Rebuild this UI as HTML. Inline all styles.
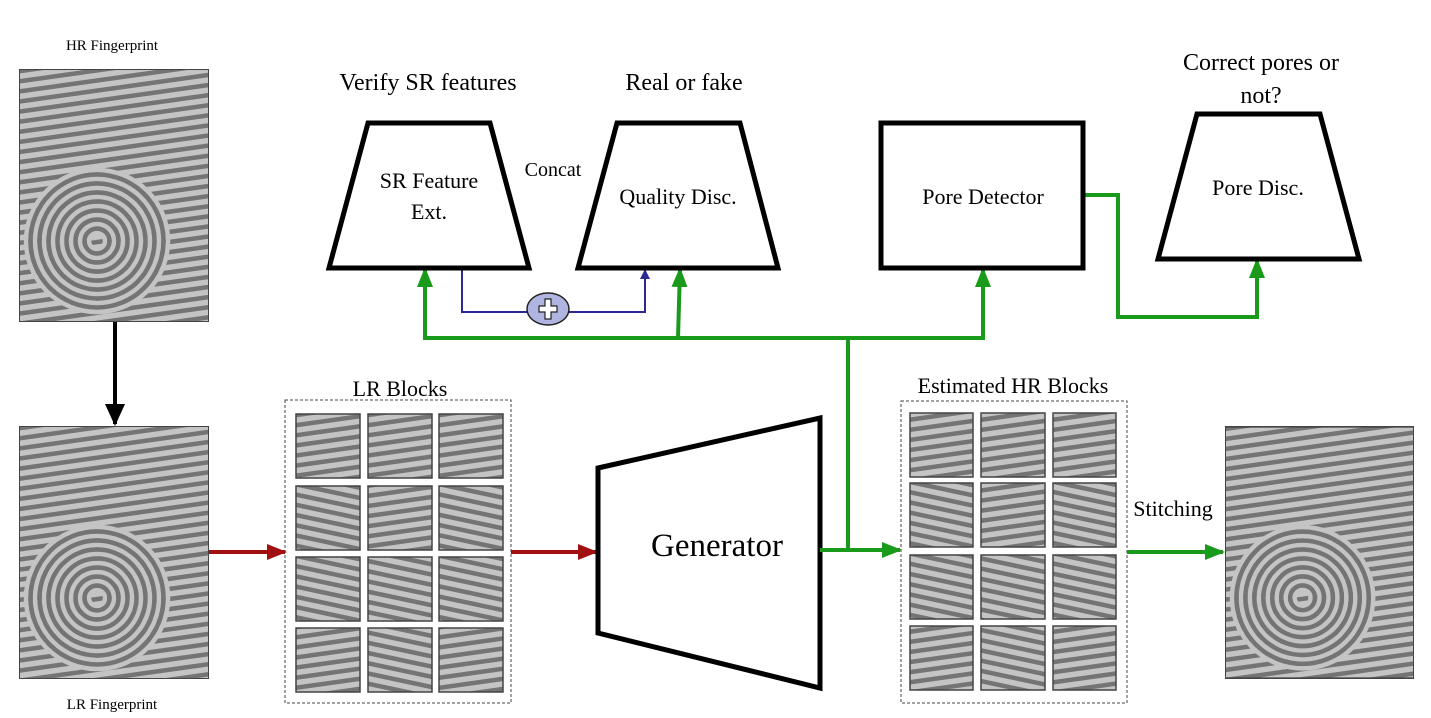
<!DOCTYPE html>
<html><head><meta charset="utf-8"><style>
html,body{margin:0;padding:0;background:#fff;}
svg{display:block;}
text{font-family:"Liberation Serif",serif;fill:#000;}
</style></head><body>
<svg width="1431" height="718" viewBox="0 0 1431 718" xmlns="http://www.w3.org/2000/svg">
<defs>
<pattern id="stripes" width="14" height="10" patternUnits="userSpaceOnUse" patternTransform="rotate(-8)">
<rect width="14" height="10" fill="#c4c4c4"/>
<rect y="0" width="14" height="4.5" fill="#747474"/>
</pattern>
<pattern id="stripes2" width="14" height="10" patternUnits="userSpaceOnUse" patternTransform="rotate(12)">
<rect width="14" height="10" fill="#c4c4c4"/>
<rect y="0" width="14" height="4.5" fill="#747474"/>
</pattern>
<marker id="ab" markerWidth="22" markerHeight="20" refX="20" refY="10" orient="auto" markerUnits="userSpaceOnUse"><path d="M0,0 L22,10 L0,20 z" fill="#000"/></marker>
<marker id="ar" markerWidth="20" markerHeight="16" refX="18" refY="8" orient="auto" markerUnits="userSpaceOnUse"><path d="M0,0 L20,8 L0,16 z" fill="#a01010"/></marker>
<marker id="ag" markerWidth="20" markerHeight="16" refX="18" refY="8" orient="auto" markerUnits="userSpaceOnUse"><path d="M0,0 L20,8 L0,16 z" fill="#1a9a1a"/></marker>
<marker id="abl" markerWidth="10" markerHeight="10" refX="9" refY="5" orient="auto" markerUnits="userSpaceOnUse"><path d="M0,0 L10,5 L0,10 z" fill="#2a2a90"/></marker>
<symbol id="fp" viewBox="0 0 190 253">
<rect width="190" height="253" fill="url(#stripes)"/>
<g fill="none" stroke="#c4c4c4" stroke-width="4.5">
<circle cx="78" cy="172" r="8"/><circle cx="78" cy="172" r="17"/><circle cx="78" cy="172" r="26"/><circle cx="78" cy="172" r="35"/><circle cx="78" cy="172" r="44"/><circle cx="78" cy="172" r="53"/><circle cx="78" cy="172" r="62"/><circle cx="78" cy="172" r="71"/>
</g>
<g fill="none" stroke="#747474" stroke-width="4.5">
<circle cx="78" cy="172" r="12.5"/><circle cx="78" cy="172" r="21.5"/><circle cx="78" cy="172" r="30.5"/><circle cx="78" cy="172" r="39.5"/><circle cx="78" cy="172" r="48.5"/><circle cx="78" cy="172" r="57.5"/><circle cx="78" cy="172" r="66.5"/>
</g>
<rect width="190" height="253" fill="none" stroke="#444" stroke-width="2"/>
</symbol>
</defs>

<use href="#fp" x="19" y="69" width="190" height="253"/>
<use href="#fp" x="19" y="426" width="190" height="253"/>
<use href="#fp" x="1225" y="426" width="189" height="253"/>
<text x="112" y="50" font-size="15" text-anchor="middle">HR Fingerprint</text>
<text x="112" y="709" font-size="15" text-anchor="middle">LR Fingerprint</text>
<line x1="115" y1="322" x2="115" y2="424" stroke="#000" stroke-width="4" marker-end="url(#ab)"/>

<rect x="285" y="400" width="226" height="303" fill="none" stroke="#444" stroke-width="1" stroke-dasharray="3,2"/>
<text x="400" y="396" font-size="22" text-anchor="middle">LR Blocks</text>
<g stroke="#444" stroke-width="1.5">
<rect x="296" y="414" width="64" height="64" fill="url(#stripes)"/><rect x="368" y="414" width="64" height="64" fill="url(#stripes)"/><rect x="439" y="414" width="64" height="64" fill="url(#stripes)"/>
<rect x="296" y="486" width="64" height="64" fill="url(#stripes2)"/><rect x="368" y="486" width="64" height="64" fill="url(#stripes)"/><rect x="439" y="486" width="64" height="64" fill="url(#stripes2)"/>
<rect x="296" y="557" width="64" height="64" fill="url(#stripes2)"/><rect x="368" y="557" width="64" height="64" fill="url(#stripes2)"/><rect x="439" y="557" width="64" height="64" fill="url(#stripes2)"/>
<rect x="296" y="628" width="64" height="64" fill="url(#stripes)"/><rect x="368" y="628" width="64" height="64" fill="url(#stripes2)"/><rect x="439" y="628" width="64" height="64" fill="url(#stripes)"/>
</g>
<line x1="209" y1="552" x2="285" y2="552" stroke="#a01010" stroke-width="4" marker-end="url(#ar)"/>
<line x1="511" y1="552" x2="596" y2="552" stroke="#a01010" stroke-width="4" marker-end="url(#ar)"/>

<polygon points="598,468 820,418 820,688 598,633" fill="#fff" stroke="#000" stroke-width="5"/>
<text x="717" y="556" font-size="33" text-anchor="middle">Generator</text>

<rect x="901" y="401" width="226" height="302" fill="none" stroke="#444" stroke-width="1" stroke-dasharray="3,2"/>
<text x="1013" y="393" font-size="22" text-anchor="middle">Estimated HR Blocks</text>
<g stroke="#444" stroke-width="1.5">
<rect x="910" y="413" width="63" height="64" fill="url(#stripes)"/><rect x="981" y="413" width="64" height="64" fill="url(#stripes)"/><rect x="1053" y="413" width="63" height="64" fill="url(#stripes)"/>
<rect x="910" y="483" width="63" height="64" fill="url(#stripes2)"/><rect x="981" y="483" width="64" height="64" fill="url(#stripes)"/><rect x="1053" y="483" width="63" height="64" fill="url(#stripes2)"/>
<rect x="910" y="555" width="63" height="64" fill="url(#stripes2)"/><rect x="981" y="555" width="64" height="64" fill="url(#stripes2)"/><rect x="1053" y="555" width="63" height="64" fill="url(#stripes2)"/>
<rect x="910" y="626" width="63" height="64" fill="url(#stripes)"/><rect x="981" y="626" width="64" height="64" fill="url(#stripes2)"/><rect x="1053" y="626" width="63" height="64" fill="url(#stripes)"/>
</g>
<text x="1173" y="516" font-size="22" text-anchor="middle">Stitching</text>

<g fill="none" stroke="#1a9a1a" stroke-width="4">
<line x1="820" y1="550" x2="900" y2="550" marker-end="url(#ag)"/>
<line x1="1127" y1="552" x2="1223" y2="552" marker-end="url(#ag)"/>
<polyline points="848,550 848,338 425,338 425,269" marker-end="url(#ag)"/>
<polyline points="678,338 680,269" marker-end="url(#ag)"/>
<polyline points="848,338 983,338 983,269" marker-end="url(#ag)"/>
<polyline points="1083,195 1118,195 1118,317 1257,317 1257,260" marker-end="url(#ag)"/>
</g>

<polyline points="462,268 462,312 645,312 645,270" fill="none" stroke="#2a2a90" stroke-width="2" marker-end="url(#abl)"/>
<ellipse cx="548" cy="309" rx="21" ry="16" fill="#b0b4e0" stroke="#222" stroke-width="1.5"/>
<path d="M539,306 h6 v-7 h6 v7 h6 v6 h-6 v7 h-6 v-7 h-6 z" fill="#fff" stroke="#222" stroke-width="1.2"/>

<polygon points="368,123 490,123 529,268 329,268" fill="#fff" stroke="#000" stroke-width="5"/>
<text x="429" y="188" font-size="22" text-anchor="middle">SR Feature</text>
<text x="429" y="219" font-size="22" text-anchor="middle">Ext.</text>
<text x="428" y="90" font-size="24" text-anchor="middle">Verify SR features</text>
<text x="553" y="176" font-size="20" text-anchor="middle">Concat</text>

<polygon points="617,123 740,123 778,268 578,268" fill="#fff" stroke="#000" stroke-width="5"/>
<text x="678" y="204" font-size="22" text-anchor="middle">Quality Disc.</text>
<text x="684" y="90" font-size="24" text-anchor="middle">Real or fake</text>

<rect x="881" y="123" width="202" height="145" fill="#fff" stroke="#000" stroke-width="5"/>
<text x="983" y="204" font-size="22" text-anchor="middle">Pore Detector</text>

<polygon points="1197,114 1320,114 1359,259 1158,259" fill="#fff" stroke="#000" stroke-width="5"/>
<text x="1258" y="195" font-size="22" text-anchor="middle">Pore Disc.</text>
<text x="1261" y="70" font-size="24" text-anchor="middle">Correct pores or</text>
<text x="1261" y="103" font-size="24" text-anchor="middle">not?</text>
</svg>
</body></html>
